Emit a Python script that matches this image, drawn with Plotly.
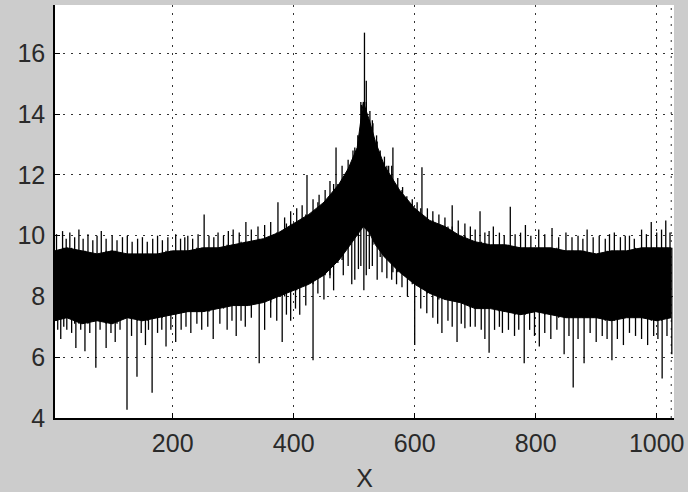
import numpy as np
import plotly.graph_objects as go

# Envelope of the dense noisy band
env_x = [5, 25, 50, 75, 100, 125, 150, 175, 200, 225, 250, 275, 300, 325, 350, 375, 400,
         425, 450, 475, 490, 505, 515, 525, 535, 550, 575, 600, 625, 650, 675, 700, 725,
         750, 775, 800, 825, 850, 875, 900, 925, 950, 975, 1000, 1024]
env_hi = [9.5, 9.6, 9.5, 9.4, 9.5, 9.4, 9.4, 9.4, 9.5, 9.5, 9.6, 9.6, 9.7, 9.8, 9.9, 10.1, 10.4,
          10.7, 11.1, 11.7, 12.2, 12.9, 14.4, 13.8, 13.1, 12.3, 11.5, 10.9, 10.5, 10.3, 10.0, 9.8, 9.7,
          9.7, 9.6, 9.6, 9.6, 9.5, 9.5, 9.4, 9.5, 9.5, 9.6, 9.6, 9.6]
env_lo = [7.2, 7.3, 7.1, 7.2, 7.1, 7.3, 7.2, 7.3, 7.4, 7.5, 7.5, 7.6, 7.7, 7.7, 7.8, 8.0, 8.2,
          8.4, 8.7, 9.2, 9.6, 10.0, 10.3, 10.1, 9.7, 9.3, 8.8, 8.4, 8.1, 7.9, 7.8, 7.6, 7.6,
          7.5, 7.4, 7.5, 7.4, 7.3, 7.3, 7.3, 7.2, 7.3, 7.3, 7.2, 7.3]

# Individual upward spikes (x, tip value)
up_x = [8, 18, 24, 30, 38, 45, 52, 60, 68, 75, 82, 90, 100, 108, 117, 125, 133, 142, 150, 158,
        167, 175, 183, 192, 205, 213, 220, 225, 233, 242, 252, 260, 268, 275, 284, 292, 300,
        310, 321, 330, 341, 352, 362, 374, 385, 395, 405, 414, 422, 432, 442, 452, 460, 470,
        480, 490, 498, 506, 512, 517, 520, 526, 531, 537, 543, 550, 557, 564, 572, 580, 587,
        596, 604, 612, 621, 630, 640, 650, 662, 672, 683, 692, 700, 708, 716, 723, 730, 740,
        748, 758, 766, 775, 783, 792, 805, 815, 827, 838, 850, 860, 870, 878, 885, 895, 905,
        915, 922, 930, 940, 948, 955, 963, 975, 983, 991, 1000, 1008, 1015, 1022]
up_y = [10.05, 10.15, 9.9, 10.1, 9.95, 10.2, 9.9, 10.05, 9.85, 10.0, 10.15, 9.9, 10.0, 9.85,
        9.95, 10.0, 9.8, 9.9, 9.95, 9.8, 9.9, 10.0, 9.85, 9.95, 10.05, 9.9, 9.95, 10.0, 9.9,
        10.05, 10.7, 10.0, 9.95, 10.1, 10.0, 10.15, 10.2, 10.1, 10.45, 10.2, 10.3, 10.35, 10.45,
        11.1, 10.6, 10.8, 10.9, 11.0, 12.0, 11.2, 11.35, 11.5, 11.8, 12.9, 12.3, 12.5, 12.8,
        13.3, 14.3, 16.68, 15.1, 14.1, 13.7, 13.3, 12.8, 12.6, 12.3, 12.9, 11.9, 11.6, 11.3,
        11.2, 11.1, 12.25, 10.9, 10.8, 10.7, 10.6, 11.0, 10.5, 10.4, 10.3, 10.2, 10.8, 10.1,
        10.15, 10.3, 10.1, 10.0, 10.95, 10.05, 10.1, 10.35, 10.0, 10.2, 10.05, 10.25, 9.95,
        10.1, 9.95, 10.0, 9.9, 10.2, 9.95, 10.0, 9.9, 10.05, 10.1, 9.95, 10.0, 10.0, 9.9,
        10.2, 10.05, 10.45, 10.1, 10.2, 10.5, 10.1]

# Individual downward spikes (x, tip value)
down_x = [10, 15, 20, 25, 33, 40, 48, 55, 63, 73, 80, 90, 98, 105, 113, 124.5, 132, 141, 148,
          155, 160, 166, 175, 182, 189, 197, 205, 214, 222, 230, 240, 248, 258, 267, 278, 290,
          298, 305, 313, 320, 330, 343, 352, 362, 372, 381, 388, 395, 403, 410, 420, 432, 440,
          450, 460, 466, 473, 482, 490, 496, 501, 507, 511, 516, 520, 525, 530, 538, 546, 554,
          562, 570, 579, 588, 600, 610, 620, 630, 638, 645, 655, 662, 670, 677, 683, 692, 700,
          710, 716, 723, 732, 740, 745, 755, 765, 772, 781, 790, 798, 806, 815, 825, 835, 847,
          855, 862, 870, 880, 890, 900, 910, 918, 926, 935, 945, 955, 965, 975, 985, 995, 1002,
          1009, 1017, 1025]
down_y = [6.9, 6.6, 7.0, 6.9, 6.8, 6.3, 6.9, 6.2, 6.8, 5.65, 6.9, 6.3, 6.8, 6.5, 6.9, 4.27,
          6.7, 5.36, 6.8, 6.4, 6.9, 4.83, 6.8, 6.9, 6.35, 6.9, 6.5, 6.9, 7.0, 6.8, 7.1, 6.9,
          7.0, 6.6, 7.1, 6.9, 7.2, 6.7, 7.2, 7.0, 7.3, 5.8, 6.9, 7.3, 7.2, 6.5, 7.4, 7.2, 7.6,
          7.4, 7.7, 5.9, 8.1, 7.9, 8.6, 8.2, 9.1, 8.7, 9.0, 8.4, 8.55, 8.9, 9.0, 8.2, 8.7,
          8.9, 9.0, 8.55, 8.8, 8.6, 8.55, 8.4, 8.3, 8.0, 6.4, 7.6, 7.45, 7.3, 7.1, 6.8, 7.2,
          7.0, 6.5, 7.1, 6.95, 7.0, 7.0, 6.9, 6.6, 6.15, 6.9, 7.0, 6.8, 6.9, 6.7, 6.9, 5.8,
          6.9, 6.7, 6.35, 6.8, 6.6, 6.9, 6.1, 6.7, 5.0, 6.6, 5.8, 6.8, 6.5, 6.7, 6.6, 5.9,
          6.6, 6.4, 6.8, 6.7, 6.6, 6.4, 6.7, 6.6, 5.3, 6.7, 6.1]

x_ticks = [200, 400, 600, 800, 1000]
y_ticks = [4, 6, 8, 10, 12, 14, 16]

env_xa = np.array(env_x, float)
hi = np.array(env_hi)
lo = np.array(env_lo)


def nearest(xv):
    return int(np.argmin(np.abs(env_xa - xv)))


sx, sy = [], []
for xv, yv in zip(up_x, up_y):
    sx += [xv, xv, None]
    sy += [yv, lo[nearest(xv)], None]
for xv, yv in zip(down_x, down_y):
    sx += [xv, xv, None]
    sy += [yv, hi[nearest(xv)], None]

fig = go.Figure()
fig.add_trace(go.Scatter(x=env_x, y=env_lo, mode="lines",
                         line=dict(color="black", width=1), showlegend=False,
                         hoverinfo="skip"))
fig.add_trace(go.Scatter(x=env_x, y=env_hi, mode="lines", fill="tonexty",
                         fillcolor="black", line=dict(color="black", width=1),
                         showlegend=False, hoverinfo="skip"))
fig.add_trace(go.Scatter(x=sx, y=sy, mode="lines",
                         line=dict(color="black", width=1.3), showlegend=False,
                         hoverinfo="skip"))

# dotted line at the right edge of the data span
fig.add_shape(type="line", x0=1024, x1=1024, y0=0, y1=1, xref="x", yref="paper",
              line=dict(color="#333333", width=1, dash="2px,6px"), layer="below")

font = dict(family="Liberation Sans, Arial, sans-serif", size=25, color="#2a2a2a")

fig.update_layout(
    width=688, height=492,
    paper_bgcolor="#cccccc", plot_bgcolor="white",
    margin=dict(l=55, r=14, t=5, b=74, autoexpand=False),
    font=font,
    xaxis=dict(range=[5.5, 1028.6], tickvals=x_ticks, ticktext=[str(v) for v in x_ticks],
               showgrid=True, gridcolor="#333333", griddash="2px,6px", gridwidth=1,
               showline=True, linecolor="black", linewidth=1.5, mirror=False,
               ticks="inside", ticklen=5, tickcolor="black", zeroline=False,
               ticklabelstandoff=2, automargin=False,
               title=dict(text="X", font=font, standoff=14)),
    yaxis=dict(range=[4, 17.59], tickvals=y_ticks, ticktext=[str(v) for v in y_ticks],
               showgrid=True, gridcolor="#333333", griddash="2px,6px", gridwidth=1,
               showline=True, linecolor="black", linewidth=1.5, mirror=False,
               ticks="inside", ticklen=5, tickcolor="black", zeroline=False,
               ticklabelstandoff=3, automargin=False),
)

fig.write_html("out.html", config={"displayModeBar": False},
               post_script="document.body.style.margin='0';document.body.style.padding='0';")
